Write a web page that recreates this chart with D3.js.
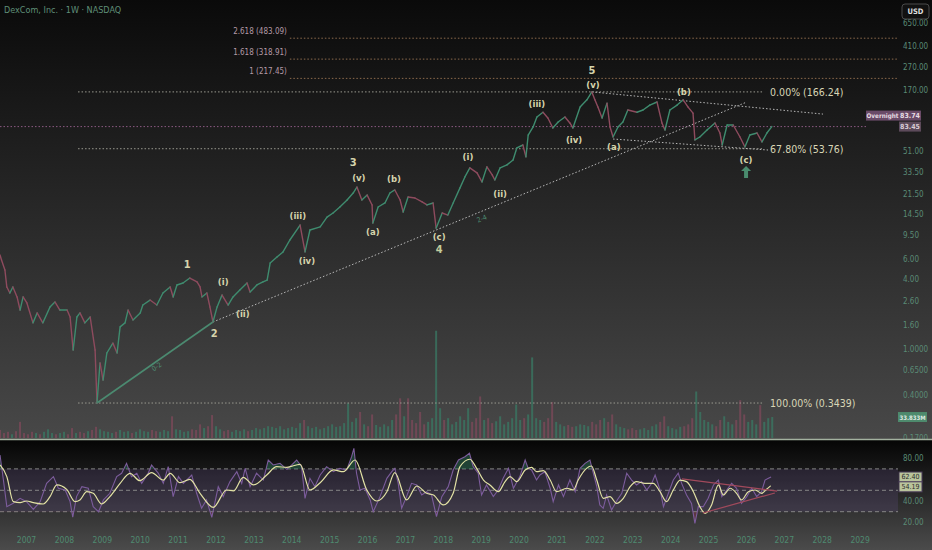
<!DOCTYPE html>
<html><head><meta charset="utf-8">
<script src="https://cdn.jsdelivr.net/npm/d3@7"></script>
<style>
html,body{margin:0;padding:0;background:#000;overflow:hidden}
svg{display:block}
text{font-family:"Liberation Sans Narrow","DejaVu Sans Condensed","Liberation Sans",Arial,sans-serif}
</style>
</head><body>
<svg id="c" width="932" height="550"></svg>
<script>
// ---------------- DATA ----------------
const priceYears = [2006.30,2006.34,2006.43,2006.48,2006.56,2006.64,2006.75,2006.83,2006.91,2007.01,
2007.17,2007.28,2007.43,2007.62,2007.75,2007.88,2008.07,2008.15,2008.23,2008.33,
2008.41,2008.54,2008.68,2008.81,2008.86,2008.94,2009.02,2009.12,2009.28,2009.39,
2009.47,2009.60,2009.68,2009.81,2010.00,2010.07,2010.26,2010.44,2010.60,2010.79,
2010.87,2010.97,2011.13,2011.31,2011.50,2011.58,2011.63,2011.76,2011.84,2011.92,
2012.03,2012.16,2012.32,2012.45,2012.63,2012.82,2012.90,2013.08,2013.24,2013.35,
2013.43,2013.61,2013.77,2013.95,2014.22,2014.35,2014.48,2014.75,2014.93,2015.09,
2015.27,2015.46,2015.62,2015.72,2015.85,2015.99,2016.12,2016.14,2016.28,2016.46,
2016.59,2016.72,2016.86,2016.94,2017.07,2017.25,2017.44,2017.57,2017.73,2017.81,
2017.97,2018.12,2018.26,2018.44,2018.57,2018.70,2018.89,2019.02,2019.15,2019.29,
2019.36,2019.50,2019.68,2019.84,2019.94,2020.10,2020.18,2020.24,2020.37,2020.47,
2020.63,2020.76,2020.89,2021.03,2021.21,2021.34,2021.42,2021.61,2021.79,2021.92,
2022.00,2022.08,2022.19,2022.32,2022.40,2022.48,2022.61,2022.74,2022.87,2023.11,
2023.27,2023.45,2023.64,2023.77,2023.85,2023.98,2024.17,2024.33,2024.46,2024.59,
2024.64,2024.77,2024.96,2025.17,2025.30,2025.36,2025.49,2025.65,2025.83,2025.96,
2026.09,2026.28,2026.41,2026.54,2026.67];
const priceClose = [6.51,5.89,4.83,3.45,3.06,3.45,2.83,2.18,2.83,2.51,
1.69,2.06,1.69,2.32,2.56,2.18,2.18,1.90,0.985,1.90,
2.06,1.69,1.90,0.985,0.344,0.762,0.543,0.929,1.13,0.929,
1.56,1.69,2.18,1.79,2.06,2.41,2.66,2.41,3.06,3.45,
2.83,3.59,3.73,4.12,3.81,3.45,2.83,3.06,2.32,1.72,
2.32,2.94,2.41,2.83,3.25,3.73,3.12,3.59,3.81,3.96,
5.55,6.26,6.92,8.77,11.8,6.92,10.7,11.4,13.8,15.0,
16.9,19.4,22.3,25.1,19.4,21.4,17.6,12.3,16.9,18.3,
22.3,23.7,19.4,15.3,20.6,20.2,18.7,17.6,18.3,11.1,
15.0,14.4,18.3,24.7,30.7,36.8,33.3,27.8,37.5,32.0,
28.9,36.8,39.0,43.0,54.6,57.9,45.7,70.6,82.8,101,
111,99,81.2,91.4,101,89.7,81.2,123,142,166,
142,123,99,133,82.8,67.9,82.8,91.4,116,111,
116,128,136,89.7,78.0,116,128,142,123,109,
64.0,67.9,78.0,89.7,73.5,57.9,86.1,86.1,67.9,55.7,
70.6,73.5,61.5,73.5,83.45];

const volStart = 2006.30;      // first volume bar (decimal year)
const volStep = 0.1056;        // years between volume samples
const volume = [13,8,10,6,11,26,8,6,10,8,
6,10,14,8,6,8,10,6,16,8,
10,8,11,13,18,14,11,10,8,10,
13,10,11,8,10,14,11,10,13,11,
10,13,11,35,14,13,10,11,14,13,
22,16,19,37,19,14,11,13,10,13,
11,14,11,13,16,14,16,19,18,16,
19,14,16,18,16,24,29,19,16,18,
14,16,19,22,18,19,24,56,26,32,
42,22,19,38,21,18,22,19,29,38,
64,35,64,29,24,42,22,26,32,173,
48,29,32,22,26,35,29,48,26,32,
67,29,32,24,27,35,22,26,32,54,
29,32,38,130,32,29,26,32,58,26,
22,19,21,18,19,22,21,19,26,22,
29,32,26,38,22,18,16,14,16,13,
14,16,13,19,22,26,35,19,16,14,
18,19,22,32,75,42,29,26,22,19,
29,35,26,22,29,61,38,26,29,22,
53,26,32,33.833];

const rsiYears = [2006.30,2006.39,2006.48,2006.65,2006.83,2007.00,2007.18,2007.36,2007.53,2007.71,
2007.84,2008.02,2008.15,2008.22,2008.32,2008.46,2008.63,2008.76,2008.90,2009.03,
2009.20,2009.38,2009.51,2009.64,2009.77,2009.91,2010.04,2010.21,2010.30,2010.48,
2010.61,2010.74,2010.87,2011.01,2011.14,2011.36,2011.49,2011.62,2011.75,2011.89,
2012.06,2012.19,2012.37,2012.55,2012.68,2012.77,2012.90,2013.07,2013.25,2013.38,
2013.51,2013.69,2013.87,2014.00,2014.13,2014.26,2014.35,2014.48,2014.61,2014.75,
2014.92,2015.10,2015.27,2015.45,2015.58,2015.64,2015.71,2015.80,2015.93,2016.07,
2016.15,2016.33,2016.51,2016.64,2016.72,2016.81,2016.90,2017.03,2017.16,2017.30,
2017.43,2017.56,2017.69,2017.82,2017.96,2018.13,2018.26,2018.40,2018.57,2018.69,
2018.79,2018.92,2019.01,2019.14,2019.32,2019.45,2019.58,2019.72,2019.85,2020.02,
2020.16,2020.24,2020.33,2020.46,2020.55,2020.68,2020.82,2020.90,2021.04,2021.17,
2021.34,2021.48,2021.61,2021.74,2021.87,2021.96,2022.05,2022.13,2022.22,2022.31,
2022.44,2022.59,2022.71,2022.84,2022.97,2023.10,2023.23,2023.37,2023.50,2023.59,
2023.72,2023.81,2023.94,2024.07,2024.20,2024.29,2024.42,2024.55,2024.64,2024.73,
2024.86,2024.99,2025.13,2025.26,2025.35,2025.48,2025.61,2025.74,2025.87,2026.01,
2026.14,2026.27,2026.40,2026.49,2026.58,2026.65];
const rsiValues = [83.0,59.6,34.7,37.8,42.5,39.4,32.2,39.4,56.5,62.8,
51.9,50.3,39.4,24.8,44.1,53.4,51.9,34.7,30.0,41.0,
47.2,62.8,65.9,75.2,62.8,65.9,56.5,65.9,73.7,65.9,
56.5,72.1,44.1,62.8,56.5,64.3,47.2,33.2,41.0,24.8,
53.4,44.1,58.1,67.4,56.5,70.5,53.4,65.9,59.6,78.3,
73.7,75.2,69.6,73.7,78.3,72.1,42.5,61.2,53.4,64.3,
72.1,67.4,70.5,69.0,81.4,89.2,65.9,50.3,51.9,41.0,
30.0,44.1,61.2,67.4,70.5,56.5,33.2,44.1,56.5,55.0,
45.6,48.7,45.6,25.4,44.1,53.4,69.0,78.3,81.4,84.6,
72.1,65.9,45.6,55.0,44.1,50.3,61.2,70.5,51.9,62.8,
78.3,70.5,69.0,59.6,64.3,67.4,51.9,39.4,55.0,44.1,
59.6,48.7,70.5,75.2,78.3,65.9,53.4,36.3,33.2,45.6,
31.6,41.0,47.2,65.9,59.6,55.0,58.1,50.3,56.5,64.3,
50.3,34.7,47.2,59.6,65.9,56.5,45.6,37.8,19.1,34.7,
34.7,42.5,55.0,59.6,44.1,50.3,56.5,51.9,37.8,44.1,
51.9,44.1,48.7,59.6,61.2,62.4];

const rsiMaYears = [2006.30,2006.48,2006.65,2006.83,2007.00,2007.18,2007.44,2007.62,2007.80,2008.06,
2008.28,2008.41,2008.59,2008.76,2008.98,2009.20,2009.47,2009.73,2009.99,2010.30,
2010.61,2010.79,2011.05,2011.31,2011.58,2011.93,2012.28,2012.46,2012.72,2012.99,
2013.34,2013.60,2013.87,2014.22,2014.48,2014.75,2015.10,2015.36,2015.67,2015.98,
2016.24,2016.51,2016.72,2017.03,2017.30,2017.56,2017.74,2018.00,2018.26,2018.44,
2018.70,2018.88,2019.06,2019.23,2019.45,2019.63,2019.76,2019.94,2020.16,2020.33,
2020.46,2020.64,2020.82,2020.99,2021.26,2021.43,2021.56,2021.78,2021.91,2022.05,
2022.22,2022.40,2022.57,2022.75,2022.93,2023.10,2023.32,2023.54,2023.72,2023.89,
2024.07,2024.25,2024.42,2024.60,2024.77,2024.91,2025.08,2025.26,2025.39,2025.57,
2025.74,2025.87,2026.05,2026.23,2026.40,2026.53,2026.64];
const rsiMaValues = [73.7,62.8,39.4,38.5,40.0,38.5,37.2,44.1,55.0,50.9,
39.4,41.0,48.7,47.2,37.2,44.1,56.5,65.9,59.0,66.5,
59.6,65.9,57.1,60.3,47.2,34.1,50.3,49.4,62.1,55.0,
64.3,72.1,71.5,74.3,50.3,57.1,69.0,67.4,78.3,50.3,
40.0,48.7,66.5,41.0,54.0,47.2,45.6,36.3,47.2,72.1,
79.0,70.5,59.6,55.0,48.7,58.1,62.8,58.1,69.0,71.5,
67.4,68.4,59.6,48.7,51.9,50.3,59.6,70.5,72.7,59.6,
42.5,44.1,37.8,42.5,53.4,58.1,56.5,56.5,48.7,39.4,
50.3,59.6,58.1,48.7,34.7,28.5,36.3,55.0,45.6,51.9,
47.2,41.0,48.7,50.3,47.2,50.9,54.2];

const yearTicks = [2007,2008,2009,2010,2011,2012,2013,2014,2015,2016,2017,2018,2019,2020,2021,2022,2023,2024,2025,2026,2027,2028,2029];
const priceTicks = [650,410,270,170,51,33.5,21.5,14.5,9.5,6,4,2.6,1.6,1,0.65,0.4,0.17];
const priceTickLabels = ["650.00","410.00","270.00","170.00","51.00","33.50","21.50","14.50","9.50","6.00","4.00","2.60","1.60","1.0000","0.6500","0.4000","0.1700"];
const rsiTicks = [80,40,20];
const rsiTickLabels = ["80.00","40.00","20.00"];
const rsiLevels = [70,50,30];

const fibRetrLabels = ["0.00% (166.24)","67.80% (53.76)","100.00% (0.3439)"];
const fibRetrValues = [166.24,53.76,0.3439];
const fibRetrSpan = [2008.36,2026.44];
const fibExtLabels = ["2.618 (483.09)","1.618 (318.91)","1 (217.45)"];
const fibExtValues = [483.09,318.91,217.45];
const fibExtStart = 2013.95;

const waveText  = ["1","2","(i)","(ii)","(iii)","(iv)","3","(v)","(a)","(b)","(c)","4","(i)","(ii)","(iii)","(iv)","5","(v)","(a)","(b)","(c)"];
const waveYears = [2011.24,2011.95,2012.19,2012.71,2014.16,2014.40,2015.62,2015.77,2016.14,2016.70,2017.89,2017.89,2018.65,2019.50,2020.47,2021.45,2021.92,2021.95,2022.50,2024.35,2025.99];
const wavePrices= [5.34,1.38,3.88,2.02,14.4,5.89,40.5,30.2,10.3,29.5,9.31,7.2,45.7,22.3,133,64.0,252,194,55.7,169,43.8];

// trend lines: [year1, price1, year2, price2]
const line02 = [2008.86,0.3439,2011.92,1.72];
const line24 = [2011.92,1.72,2026.01,136];
const channelTop = [2021.92,166.24,2028.02,107];
const channelBot = [2022.48,65.2,2026.57,52.4];
const line02Label = [2010.44,0.704];
const line24Label = [2019.02,13.3];
const arrowAt = [2025.99,33.9];
// RSI triangle: [year1, rsi1, year2, rsi2]
const rsiTriTop = [2024.30,60.6,2026.81,49.3];
const rsiTriBot = [2024.85,28.8,2026.75,47.5];

const lastPrice = 83.45, overnightPrice = 83.74;
const lastVolumeLabel = "33.833M";
const rsiLast = 62.40, rsiMaLast = 54.19;
const titleText = "DexCom, Inc. · 1W · NASDAQ";

// ---------------- CHART ----------------
const W = 932, H = 550, plotR = 898, mainB = 439, rsiT = 440;
const svg = d3.select("#c");
const defs = svg.append("defs");
function grad(id, c1, c2){
  const g = defs.append("linearGradient").attr("id",id).attr("x1",0).attr("y1",0).attr("x2",0).attr("y2",1);
  g.append("stop").attr("offset","0%").attr("stop-color",c1);
  g.append("stop").attr("offset","100%").attr("stop-color",c2);
}
grad("bgMain","#0a0a0a","#484848");
grad("bgRsi","#050505","#4b4b4b");
defs.append("clipPath").attr("id","clipMain").append("rect").attr("x",0).attr("y",0).attr("width",plotR).attr("height",mainB);
defs.append("clipPath").attr("id","clipAxis").append("rect").attr("x",plotR).attr("y",0).attr("width",W-plotR).attr("height",mainB);
defs.append("clipPath").attr("id","clipRsi").append("rect").attr("x",0).attr("y",rsiT).attr("width",plotR).attr("height",H-rsiT);

const x = d3.scaleLinear().domain([2006.3, 2030]).range([0, plotR]);
const y = d3.scaleLog().domain([0.1683, 1032]).range([mainB, 0]);
const r = d3.scaleLinear().domain([20, 80]).range([522.4, 458.2]);
const vH = d3.scaleLinear().domain([0, 100]).range([0, 62]);

svg.append("rect").attr("x",0).attr("y",0).attr("width",W).attr("height",mainB).attr("fill","url(#bgMain)");
svg.append("rect").attr("x",0).attr("y",rsiT).attr("width",W).attr("height",H-rsiT).attr("fill","url(#bgRsi)");

const GREEN = "#3f8c6f", RED = "#8e4b5e";
const main = svg.append("g").attr("clip-path","url(#clipMain)");

// volume
const priceDir = t => {
  let j = d3.bisectLeft(priceYears, t);
  j = Math.max(1, Math.min(priceYears.length-1, j));
  return priceClose[j] >= priceClose[j-1];
};
const bw = 2;
main.append("g").selectAll("rect").data(volume).join("rect")
  .attr("x", (d,i) => x(volStart + i*volStep) - bw/2)
  .attr("width", bw)
  .attr("y", d => 438 - vH(d))
  .attr("height", d => vH(d))
  .attr("fill", (d,i) => priceDir(volStart + i*volStep) ? "#3a7662" : "#7a4959")
  .attr("opacity", 0.8);

// horizontal current price line
main.append("line").attr("x1",0).attr("x2",867).attr("y1",y(lastPrice)).attr("y2",y(lastPrice))
  .attr("stroke","#8a5a82").attr("stroke-dasharray","1.5 2").attr("stroke-width",1);

// fib extensions
fibExtValues.forEach((v,i) => {
  main.append("line").attr("x1",x(fibExtStart)).attr("x2",plotR).attr("y1",y(v)).attr("y2",y(v))
    .attr("stroke","#8c6a4c").attr("stroke-dasharray","1.5 2").attr("stroke-width",1);
  svg.append("text").attr("x",x(fibExtStart)-3).attr("y",y(v)-7).attr("text-anchor","end")
    .attr("dominant-baseline","central").attr("font-size",8).attr("fill","#b49aa6").text(fibExtLabels[i]);
});
// fib retracement
fibRetrValues.forEach((v,i) => {
  main.append("line").attr("x1",x(fibRetrSpan[0])).attr("x2",x(fibRetrSpan[1])).attr("y1",y(v)).attr("y2",y(v))
    .attr("stroke","#9a9a90").attr("stroke-dasharray","1.5 2").attr("stroke-width",1);
  svg.append("text").attr("x",x(fibRetrSpan[1])+7).attr("y",y(v)).attr("dominant-baseline","central")
    .attr("font-size",10.5).attr("fill","#d8d6b6").text(fibRetrLabels[i]);
});

// trend lines
function tl(a, stroke, dash, w){
  main.append("line").attr("x1",x(a[0])).attr("y1",y(a[1])).attr("x2",x(a[2])).attr("y2",y(a[3]))
    .attr("stroke",stroke).attr("stroke-width",w).attr("stroke-dasharray",dash);
}
tl(line24, "#b8b8b8", "1.5 2", 1);
tl(channelTop, "#b8b8b8", "1.5 2", 1);
tl(channelBot, "#b8b8b8", "1.5 2", 1);
tl(line02, "#4b8a70", null, 1.6);

function angleOf(a){ return Math.atan2(y(a[3])-y(a[1]), x(a[2])-x(a[0]))*180/Math.PI; }
svg.append("text").attr("transform",`translate(${x(line02Label[0])},${y(line02Label[1])}) rotate(${angleOf(line02)})`)
  .attr("text-anchor","middle").attr("dominant-baseline","central").attr("font-size",7).attr("fill","#4e8c72").text("0-2");
svg.append("text").attr("transform",`translate(${x(line24Label[0])},${y(line24Label[1])}) rotate(${angleOf(line24)})`)
  .attr("text-anchor","middle").attr("dominant-baseline","central").attr("font-size",7).attr("fill","#4e8c72").text("2-4");

// price (close-to-close segments coloured by direction)
const segs = d3.range(1, priceYears.length).map(i => [i-1, i]);
main.append("g").selectAll("line").data(segs).join("line")
  .attr("x1", d => x(priceYears[d[0]])).attr("y1", d => y(priceClose[d[0]]))
  .attr("x2", d => x(priceYears[d[1]])).attr("y2", d => y(priceClose[d[1]]))
  .attr("stroke", d => priceClose[d[1]] >= priceClose[d[0]] ? GREEN : RED)
  .attr("stroke-width", 1.4).attr("stroke-linecap","round");

// wave labels
waveText.forEach((t,i) => {
  const big = !t.startsWith("(");
  svg.append("text").attr("x",x(waveYears[i])).attr("y",y(wavePrices[i]))
    .attr("text-anchor","middle").attr("dominant-baseline","central")
    .attr("font-size", big ? 11 : 9.5).attr("font-weight","bold")
    .attr("fill", t==="4" ? "#c4cc9c" : "#d6d4ac").text(t);
});
// arrow
svg.append("path").attr("transform",`translate(${x(arrowAt[0])},${y(arrowAt[1])})`)
  .attr("d","M0,-6 L5,-1 L2,-1 L2,6 L-2,6 L-2,-1 L-5,-1 Z").attr("fill","#4a8c6e");

// title
svg.append("text").attr("x",4).attr("y",10).attr("dominant-baseline","central").attr("font-size",9)
  .attr("fill","#5f8f78").text(titleText);

// price axis labels (clipped to the price pane)
const axisG = svg.append("g").attr("clip-path","url(#clipAxis)");
priceTicks.forEach((v,i) => {
  axisG.append("text").attr("x",903).attr("y",y(v)).attr("dominant-baseline","central")
    .attr("font-size",8).attr("fill","#5a8a75").text(priceTickLabels[i]);
});
svg.append("line").attr("x1",0).attr("x2",W).attr("y1",439.5).attr("y2",439.5).attr("stroke","#a4b2a0").attr("stroke-width",1.4);

// USD box
svg.append("rect").attr("x",902).attr("y",4).attr("width",27).attr("height",15).attr("rx",3)
  .attr("fill","#111").attr("stroke","#4a4a4a");
svg.append("text").attr("x",915.5).attr("y",11.5).attr("text-anchor","middle").attr("dominant-baseline","central")
  .attr("font-size",7.5).attr("font-weight","bold").attr("fill","#e0e0e0").text("USD");

// last price / overnight boxes
const yl = y(lastPrice);
svg.append("rect").attr("x",866).attr("y",yl-16).attr("width",33).attr("height",10).attr("fill","#6a4b68");
svg.append("text").attr("x",882.5).attr("y",yl-11).attr("text-anchor","middle").attr("dominant-baseline","central")
  .attr("font-size",6.3).attr("font-weight","bold").attr("fill","#e6dce2").text("Overnight");
svg.append("rect").attr("x",899).attr("y",yl-16).attr("width",22).attr("height",10).attr("fill","#6a4b68");
svg.append("text").attr("x",910).attr("y",yl-11).attr("text-anchor","middle").attr("dominant-baseline","central")
  .attr("font-size",7).attr("font-weight","bold").attr("fill","#e6dce2").text(overnightPrice.toFixed(2));
svg.append("rect").attr("x",899).attr("y",yl-5).attr("width",22).attr("height",10).attr("fill","#5c4a5a");
svg.append("text").attr("x",910).attr("y",yl).attr("text-anchor","middle").attr("dominant-baseline","central")
  .attr("font-size",7).attr("font-weight","bold").attr("fill","#d8ccd4").text(lastPrice.toFixed(2));

// volume label
const yv = 438 - vH(volume[volume.length-1]);
svg.append("rect").attr("x",898).attr("y",yv-5).attr("width",29).attr("height",10).attr("fill","#4e8a6d");
svg.append("text").attr("x",912.5).attr("y",yv).attr("text-anchor","middle").attr("dominant-baseline","central")
  .attr("font-size",6).attr("font-weight","bold").attr("fill","#dfe9e2").text(lastVolumeLabel);

// ---------------- RSI ----------------
const rsiG = svg.append("g").attr("clip-path","url(#clipRsi)");
rsiG.append("rect").attr("x",0).attr("width",plotR).attr("y",r(70)).attr("height",r(30)-r(70))
  .attr("fill","rgba(125,95,175,0.17)");
rsiLevels.forEach(l => {
  rsiG.append("line").attr("x1",0).attr("x2",plotR).attr("y1",r(l)).attr("y2",r(l))
    .attr("stroke","#858585").attr("stroke-dasharray","4 3").attr("stroke-width",1);
});
const rsiPts = rsiYears.map((t,i) => [t, rsiValues[i]]);
defs.append("clipPath").attr("id","ob").append("rect").attr("x",0).attr("y",rsiT).attr("width",plotR).attr("height",r(70)-rsiT);
defs.append("clipPath").attr("id","os").append("rect").attr("x",0).attr("y",r(30)).attr("width",plotR).attr("height",H-r(30));
const areaOB = d3.area().x(d => x(d[0])).y0(r(70)).y1(d => r(d[1]));
const areaOS = d3.area().x(d => x(d[0])).y0(r(30)).y1(d => r(d[1]));
rsiG.append("path").attr("d",areaOB(rsiPts)).attr("clip-path","url(#ob)").attr("fill","#2f7a5c").attr("opacity",0.45);
rsiG.append("path").attr("d",areaOS(rsiPts)).attr("clip-path","url(#os)").attr("fill","#8a3b4e").attr("opacity",0.45);
rsiG.append("path").attr("d", d3.line().x(d => x(d[0])).y(d => r(d[1]))(rsiPts))
  .attr("fill","none").attr("stroke","#7c5c9c").attr("stroke-width",1.1);
const maPts = rsiMaYears.map((t,i) => [t, rsiMaValues[i]]);
rsiG.append("path").attr("d", d3.line().curve(d3.curveMonotoneX).x(d => x(d[0])).y(d => r(d[1]))(maPts))
  .attr("fill","none").attr("stroke","#e2e2a4").attr("stroke-width",1.2);
[rsiTriTop, rsiTriBot].forEach(a => {
  rsiG.append("line").attr("x1",x(a[0])).attr("y1",r(a[1])).attr("x2",x(a[2])).attr("y2",r(a[3]))
    .attr("stroke","#a24a5c").attr("stroke-width",1.2);
});
rsiTicks.forEach((v,i) => {
  svg.append("text").attr("x",903).attr("y",r(v)).attr("dominant-baseline","central")
    .attr("font-size",8).attr("fill","#5a8a75").text(rsiTickLabels[i]);
});
[[rsiLast, r(rsiLast)], [rsiMaLast, r(rsiMaLast)+1]].forEach(([v, yy]) => {
  svg.append("rect").attr("x",899).attr("y",yy-5).attr("width",23).attr("height",10)
    .attr("fill","#b9c49c").attr("stroke","#4b3d5c").attr("stroke-width",1);
  svg.append("text").attr("x",910.5).attr("y",yy).attr("text-anchor","middle").attr("dominant-baseline","central")
    .attr("font-size",7).attr("fill","#2a2a2a").text(v.toFixed(2));
});

// x axis labels
yearTicks.forEach(t => {
  svg.append("text").attr("x",x(t)).attr("y",540).attr("text-anchor","middle").attr("dominant-baseline","central")
    .attr("font-size",8.5).attr("fill","#4f8a70").text(t);
});
</script>
</body></html>
